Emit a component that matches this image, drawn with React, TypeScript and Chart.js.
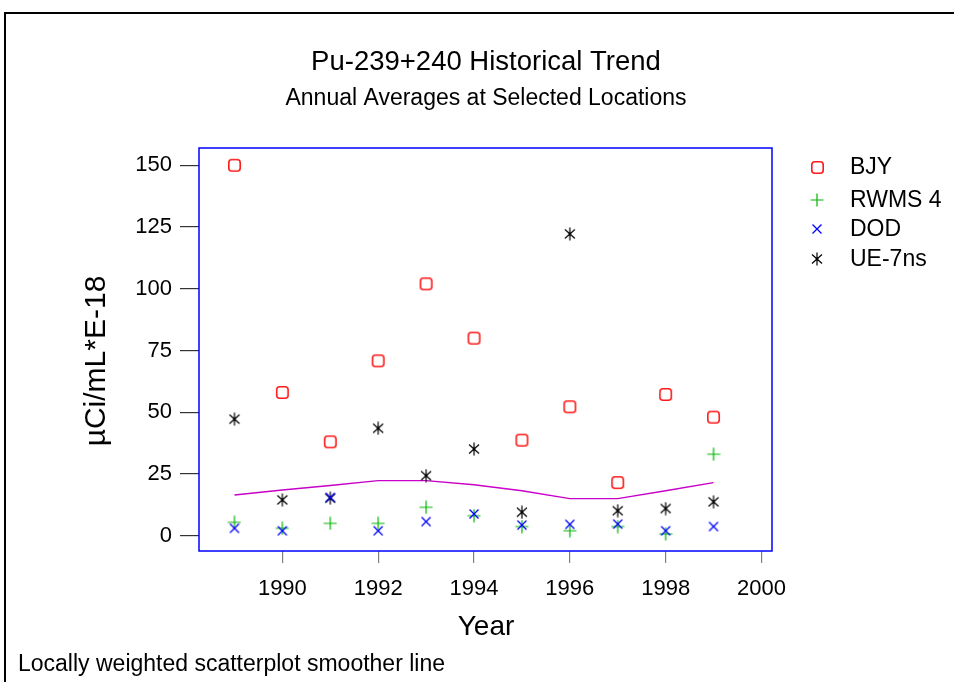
import React, { useEffect, useRef } from "react";
import { Chart, registerables } from "chart.js";

Chart.register(...registerables);

// ---- data ----
const years = [1989, 1990, 1991, 1992, 1993, 1994, 1995, 1996, 1997, 1998, 1999];
const bjy = [150, 58, 38, 70.8, 102, 80, 38.7, 52.2, 21.5, 57.2, 48];
const rwms4 = [5.4, 3.0, 5.0, 5.0, 11.5, 8.1, 3.7, 2.0, 3.7, 0.7, 33];
const dod = [3.0, 2.0, 15.5, 2.0, 5.7, 8.8, 4.3, 4.6, 4.7, 2.0, 3.7];
const ue7ns = [47.2, 14.5, 15.2, 43.5, 24.3, 35.1, 9.5, 122.2, 10.1, 11.0, 13.7];
const smoother = [16.5, 18.5, 20.3, 22.3, 22.3, 20.6, 18.2, 15.0, 15.0, 18.2, 21.5];
const xTicks = [1990, 1992, 1994, 1996, 1998, 2000];
const yTicks = [0, 25, 50, 75, 100, 125, 150];
const seriesNames = ["BJY", "RWMS 4", "DOD", "UE-7ns"];

const X_MIN = 1988.26;
const X_MAX = 2000.22;
const Y_MIN = -6.2;
const Y_MAX = 157;

const FONT = "'Liberation Sans', Arial, Helvetica, sans-serif";

function mk(size: number, draw: (c: CanvasRenderingContext2D) => void) {
  const cv = document.createElement("canvas");
  cv.width = size;
  cv.height = size;
  const c = cv.getContext("2d")!;
  draw(c);
  return cv;
}

function makeMarkers() {
  const square = mk(15, (c) => {
    c.strokeStyle = "#ff1a1a";
    c.lineWidth = 1.6;
    const x = 1.8, y = 1.8, w = 11.4, h = 11.4, r = 3;
    c.beginPath();
    c.moveTo(x + r, y);
    c.lineTo(x + w - r, y);
    c.quadraticCurveTo(x + w, y, x + w, y + r);
    c.lineTo(x + w, y + h - r);
    c.quadraticCurveTo(x + w, y + h, x + w - r, y + h);
    c.lineTo(x + r, y + h);
    c.quadraticCurveTo(x, y + h, x, y + h - r);
    c.lineTo(x, y + r);
    c.quadraticCurveTo(x, y, x + r, y);
    c.closePath();
    c.stroke();
  });
  const plus = mk(14, (c) => {
    c.strokeStyle = "#00b400";
    c.lineWidth = 1.2;
    c.beginPath();
    c.moveTo(7, 0.5);
    c.lineTo(7, 13.5);
    c.moveTo(0.5, 7);
    c.lineTo(13.5, 7);
    c.stroke();
  });
  const cross = mk(12, (c) => {
    c.strokeStyle = "#0000ff";
    c.lineWidth = 1.3;
    c.beginPath();
    c.moveTo(1.5, 1.5);
    c.lineTo(10.5, 10.5);
    c.moveTo(10.5, 1.5);
    c.lineTo(1.5, 10.5);
    c.stroke();
  });
  const star = mk(14, (c) => {
    c.strokeStyle = "#000000";
    c.lineWidth = 1.2;
    c.beginPath();
    c.moveTo(2, 2.5);
    c.lineTo(12, 11.5);
    c.moveTo(12, 2.5);
    c.lineTo(2, 11.5);
    c.moveTo(7, 0.5);
    c.lineTo(7, 13.5);
    c.stroke();
    c.fillStyle = "#000";
    c.fillRect(5.8, 5.8, 2.4, 2.4);
  });
  return [square, plus, cross, star];
}

export default function App() {
  const ref = useRef<HTMLCanvasElement>(null);

  useEffect(() => {
    const canvas = ref.current!;
    const markers = makeMarkers();

    const decor = {
      id: "decor",
      beforeDraw(chart: any) {
        const ctx = chart.ctx;
        ctx.save();
        ctx.fillStyle = "#ffffff";
        ctx.fillRect(0, 0, chart.width, chart.height);
        ctx.strokeStyle = "#000000";
        ctx.lineWidth = 2;
        ctx.beginPath();
        ctx.moveTo(5, 700);
        ctx.lineTo(5, 13);
        ctx.lineTo(960, 13);
        ctx.stroke();
        ctx.restore();
      },
      afterDraw(chart: any) {
        const ctx = chart.ctx;
        const a = chart.chartArea;
        ctx.save();
        ctx.strokeStyle = "#0000ff";
        ctx.lineWidth = 1.5;
        ctx.strokeRect(a.left, a.top, a.right - a.left, a.bottom - a.top);

        ctx.fillStyle = "#000000";
        ctx.textBaseline = "middle";
        ctx.textAlign = "center";
        ctx.font = `27.5px ${FONT}`;
        ctx.fillText("Pu-239+240 Historical Trend", 486, 62);
        ctx.font = `23px ${FONT}`;
        ctx.fillText("Annual Averages at Selected Locations", 486, 99);

        ctx.font = `28px ${FONT}`;
        ctx.fillText("Year", 486, 627);

        ctx.save();
        ctx.translate(97, 361);
        ctx.rotate(-Math.PI / 2);
        ctx.font = `30px ${FONT}`;
        ctx.fillText("\u00b5Ci/mL*E-18", 0, 0);
        ctx.restore();

        ctx.textAlign = "left";
        ctx.font = `23px ${FONT}`;
        ctx.fillText("Locally weighted scatterplot smoother line", 18, 665);

        // legend
        const rows = [167, 200, 229, 259];
        ctx.font = `23px ${FONT}`;
        seriesNames.forEach((name, i) => {
          const m = markers[i];
          ctx.drawImage(m, Math.round(817 - m.width / 2), Math.round(rows[i] - m.height / 2));
          ctx.fillText(name, 850, rows[i] + 1);
        });
        ctx.restore();
      },
    };

    const pts = (vals: number[]) => years.map((y, i) => ({ x: y, y: vals[i] }));
    const seriesVals = [bjy, rwms4, dod, ue7ns];
    const orders = [4, 3, 1, 2];

    const datasets: any[] = seriesVals.map((vals, i) => ({
      label: seriesNames[i],
      data: pts(vals),
      pointStyle: markers[i],
      pointRadius: 6,
      showLine: false,
      order: orders[i],
    }));
    datasets.push({
      label: "LOWESS",
      data: pts(smoother),
      showLine: true,
      borderColor: "#c800c8",
      borderWidth: 1.4,
      pointRadius: 0,
      tension: 0,
      order: 5,
    });

    Chart.defaults.font.family = FONT;

    const chart = new Chart(canvas, {
      type: "scatter",
      data: { datasets },
      plugins: [decor],
      options: {
        animation: false,
        responsive: false,
        events: [],
        layout: { padding: { top: 148, right: 182, left: 0, bottom: 0 } },
        plugins: {
          legend: { display: false },
          title: { display: false },
          tooltip: { enabled: false },
        },
        scales: {
          x: {
            type: "linear",
            min: X_MIN,
            max: X_MAX,
            afterBuildTicks: (s: any) => {
              s.ticks = xTicks.map((v) => ({ value: v }));
            },
            afterFit: (s: any) => {
              s.height = 682 - 551;
            },
            border: { display: false },
            grid: {
              display: true,
              drawOnChartArea: false,
              drawTicks: true,
              tickLength: 12,
              color: "#808080",
              lineWidth: 1.2,
            },
            ticks: {
              color: "#000",
              font: { size: 22, family: FONT },
              padding: 13,
              maxRotation: 0,
              autoSkip: false,
              callback: (v: any) => String(v),
            },
          },
          y: {
            type: "linear",
            min: Y_MIN,
            max: Y_MAX,
            afterBuildTicks: (s: any) => {
              s.ticks = yTicks.map((v) => ({ value: v }));
            },
            afterFit: (s: any) => {
              s.width = 199;
            },
            border: { display: false },
            grid: {
              display: true,
              drawOnChartArea: false,
              drawTicks: true,
              tickLength: 19,
              color: "#333333",
              lineWidth: 1.2,
            },
            ticks: {
              color: "#000",
              font: { size: 22, family: FONT },
              padding: 8,
              autoSkip: false,
              callback: (v: any) => String(v),
            },
          },
        },
      },
    } as any);

    return () => chart.destroy();
  }, []);

  return (
    <div style={{ position: "absolute", left: 0, top: 0, width: 954, height: 682, background: "#fff" }}>
      <canvas ref={ref} width={954} height={682} style={{ display: "block" }} />
    </div>
  );
}
